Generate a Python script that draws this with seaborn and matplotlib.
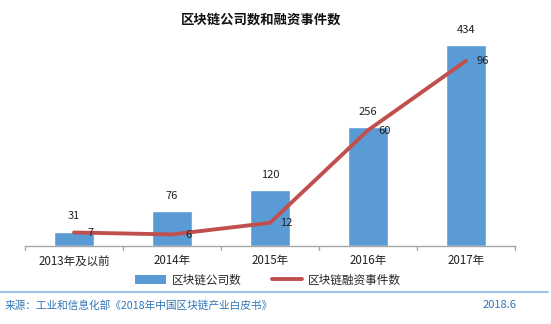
import matplotlib
matplotlib.use("Agg")
import matplotlib.pyplot as plt
import seaborn as sns
import pandas as pd
from matplotlib.lines import Line2D
from matplotlib.patches import Patch

categories = ["2013年及以前", "2014年", "2015年", "2016年", "2017年"]
companies = [31, 76, 120, 256, 434]
financing = [7, 6, 12, 60, 96]

sns.set_theme(style="white")
plt.rcParams['font.family'] = ['Noto Sans CJK SC', 'DejaVu Sans']

df = pd.DataFrame({"cat": categories, "companies": companies, "financing": financing})

fig = plt.figure(figsize=(5.51, 3.24), dpi=100)
ax = fig.add_axes([25/551, 1-246/324, 490/551, 231.5/324])
bar_color = "#5B9BD5"
line_color = "#C0504D"

sns.barplot(data=df, x="cat", y="companies", color=bar_color, width=0.4, ax=ax, saturation=1)
ax.set_ylim(0, 500)
ax.set_xlim(-0.5, 4.5)
ax.set_xlabel("")
ax.set_ylabel("")
ax.set_yticks([])
for s in ["top", "right", "left"]:
    ax.spines[s].set_visible(False)
ax.spines["bottom"].set_color("#A6A6A6")
ax.spines["bottom"].set_linewidth(1)
ax.set_xticks(range(5))
ax.set_xticklabels(categories, fontsize=8.3, color="#222222")
ax.tick_params(axis="x", length=0, pad=6)
for xb in [-0.5, 0.5, 1.5, 2.5, 3.5, 4.5]:
    ax.plot([xb, xb], [0, -9], color="#A6A6A6", lw=1, clip_on=False,
            transform=ax.transData)
for i, v in enumerate(companies):
    ax.text(i, v + 22, str(v), ha="center", va="bottom", fontsize=8, color="#222222")

ax2 = ax.twinx()
sns.lineplot(x=list(range(5)), y=financing, color=line_color, lw=2.8, ax=ax2)
ax2.set_ylim(0, 120)
ax2.set_yticks([])
ax2.set_ylabel("")
for s in ["top", "right", "left", "bottom"]:
    ax2.spines[s].set_visible(False)
for i, v in enumerate(financing):
    ax2.text(i + 0.17, v - 0.3, str(v), ha="center", va="center", fontsize=8, color="#222222")

fig.text(261/551, 1-20/324, "区块链公司数和融资事件数", ha="center", va="center",
         fontsize=9.6, fontweight="bold", color="#111111")

handles = [Patch(facecolor=bar_color, edgecolor="none"),
           Line2D([0], [0], color=line_color, lw=2.8)]
fig.legend(handles, ["区块链公司数", "区块链融资事件数"], loc="center",
           bbox_to_anchor=(268/551, 1-280/324), ncol=2, frameon=False,
           fontsize=8.4, handlelength=2.6, handleheight=0.7, columnspacing=2.6,
           handletextpad=0.5)

fig.add_artist(Line2D([0, 548/551], [1-292/324, 1-292/324], color="#9DC3E6", lw=1.5,
                      transform=fig.transFigure))
fig.text(5/551, 1-305/324, "来源：工业和信息化部《2018年中国区块链产业白皮书》", ha="left",
         va="center", fontsize=7.7, color="#2E75B6")
fig.text(517/551, 1-305/324, "2018.6", ha="right", va="center", fontsize=8, color="#2E75B6")

fig.savefig("out.png", dpi=100)
